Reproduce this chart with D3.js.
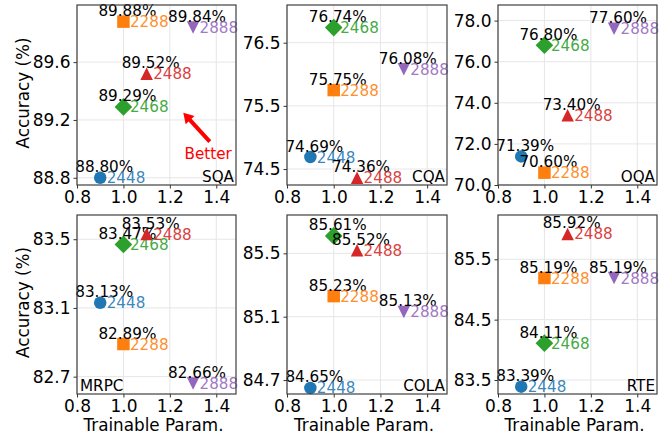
<!DOCTYPE html>
<html><head><meta charset="utf-8">
<script src="https://cdn.jsdelivr.net/npm/d3@7"></script>
<style>body{margin:0;background:#fff} text{font-family:"DejaVu Sans",sans-serif}</style>
</head><body><svg id="c" width="668" height="439"></svg>
<script>
// ---- data ----
const configs = ["2448","2288","2468","2488","2888"];
const trainableParams = [0.9, 1.0, 1.0, 1.1, 1.3];
const tasks = ["SQA","CQA","OQA","MRPC","COLA","RTE"];
const accSQA  = [88.80, 89.88, 89.29, 89.52, 89.84];
const accCQA  = [74.69, 75.75, 76.74, 74.36, 76.08];
const accOQA  = [71.39, 70.60, 76.80, 73.40, 77.60];
const accMRPC = [83.13, 82.89, 83.47, 83.53, 82.66];
const accCOLA = [84.65, 85.23, 85.61, 85.52, 85.13];
const accRTE  = [83.39, 85.19, 84.11, 85.92, 85.19];
const xTicks = [0.8, 1.0, 1.2, 1.4];
const yTicksSQA  = [88.8, 89.2, 89.6];
const yTicksCQA  = [74.5, 75.5, 76.5];
const yTicksOQA  = [70, 72, 74, 76, 78];
const yTicksMRPC = [82.7, 83.1, 83.5];
const yTicksCOLA = [84.7, 85.1, 85.5];
const yTicksRTE  = [83.5, 84.5, 85.5];
const yLimSQA  = [88.75, 89.995];
const yLimCQA  = [74.247, 77.097];
const yLimOQA  = [70.0, 78.76];
const yLimMRPC = [82.599, 83.641];
const yLimCOLA = [84.612, 85.742];
const yLimRTE  = [83.268, 86.234];
const xLim = [0.8, 1.485];
const hiddenConfigLabels = {OQA: ["2448"], COLA: ["2468"]};
const betterFrom = [1.372, 89.05];
const betterTo = [1.258, 89.25];
const betterText = [1.365, 88.93];

// ---- styles ----
const colors = ["#1f77b4","#ff7f0e","#2ca02c","#d62728","#9467bd"];
const shapes = ["circle","square","diamond","triUp","triDown"];
const accs = [accSQA, accCQA, accOQA, accMRPC, accCOLA, accRTE];
const yTicksAll = [yTicksSQA, yTicksCQA, yTicksOQA, yTicksMRPC, yTicksCOLA, yTicksRTE];
const yLims = [yLimSQA, yLimCQA, yLimOQA, yLimMRPC, yLimCOLA, yLimRTE];

const colL = [77, 287, 498], colR = [236, 447, 657];
const rowT = [5, 215], rowB = [185, 394];

const svg = d3.select("#c");
const fmt1 = d3.format(".1f");
const S = 12.5;
const ANN = 15.2, TICK = 17, LAB = 16.8;
function markerPath(shape){
  const h = S/2;
  if (shape==="circle"){const p=d3.path();p.arc(0,0,h,0,2*Math.PI);return p.toString();}
  if (shape==="square") return `M${-h},${-h}H${h}V${h}H${-h}Z`;
  if (shape==="diamond"){const d=h*Math.SQRT2;return `M0,${-d}L${d},0L0,${d}L${-d},0Z`;}
  if (shape==="triUp") return `M0,${-h}L${h},${h}L${-h},${h}Z`;
  if (shape==="triDown") return `M0,${h}L${h},${-h}L${-h},${-h}Z`;
}
function fmtPct(v){ return d3.format(".2f")(v) + "%"; }

tasks.forEach((task, i) => {
  const c = i % 3, r = Math.floor(i / 3);
  const x = d3.scaleLinear().domain(xLim).range([colL[c], colR[c]]);
  const y = d3.scaleLinear().domain(yLims[i]).range([rowB[r], rowT[r]]);
  const g = svg.append("g");
  // grid
  g.selectAll(".gx").data(xTicks).join("line")
    .attr("x1", d=>x(d)).attr("x2", d=>x(d)).attr("y1", rowT[r]).attr("y2", rowB[r])
    .attr("stroke", "#e6e6e6").attr("stroke-width", 1);
  g.selectAll(".gy").data(yTicksAll[i]).join("line")
    .attr("y1", d=>y(d)).attr("y2", d=>y(d)).attr("x1", colL[c]).attr("x2", colR[c])
    .attr("stroke", "#e6e6e6").attr("stroke-width", 1);
  // axes
  const ax = svg.append("g").attr("transform", `translate(0,${rowB[r]})`)
    .call(d3.axisBottom(x).tickValues(xTicks).tickFormat(fmt1).tickSize(3.5).tickPadding(2.5));
  ax.select(".domain").remove();
  ax.selectAll("text").attr("font-size", TICK).attr("fill", "#000").attr("font-family", "DejaVu Sans");
  ax.selectAll("line").attr("stroke", "#333");
  const ay = svg.append("g").attr("transform", `translate(${colL[c]},0)`)
    .call(d3.axisLeft(y).tickValues(yTicksAll[i]).tickFormat(fmt1).tickSize(3.5).tickPadding(3));
  ay.select(".domain").remove();
  ay.selectAll("text").attr("font-size", TICK).attr("fill", "#000").attr("font-family", "DejaVu Sans");
  ay.selectAll("line").attr("stroke", "#333");

  // points, drawn in sequence
  const hidden = hiddenConfigLabels[task] || [];
  const acc = accs[i];
  configs.forEach((cfg, k) => {
    const px = x(trainableParams[k]), py = y(acc[k]);
    g.append("path").attr("d", markerPath(shapes[k]))
      .attr("transform", `translate(${px},${py})`).attr("fill", colors[k]);
    g.append("text").attr("x", px + 4).attr("y", py - 5.5)
      .attr("text-anchor", "middle").attr("font-size", ANN).attr("fill", "#000")
      .text(fmtPct(acc[k]));
    if (!hidden.includes(cfg)) {
      g.append("text").attr("x", px + 6.5).attr("y", py + 5.5)
        .attr("font-size", ANN).attr("fill", colors[k]).attr("fill-opacity", 0.9)
        .text(cfg);
    }
  });

  // task label
  if (task === "MRPC") {
    g.append("text").attr("x", colL[c] + 3).attr("y", rowB[r] - 3.5)
      .attr("font-size", ANN).attr("fill", "#000").text(task);
  } else {
    g.append("text").attr("x", colR[c] - 2).attr("y", rowB[r] - 3.5)
      .attr("text-anchor", "end").attr("font-size", ANN).attr("fill", "#000").text(task);
  }

  // frame
  svg.append("rect").attr("x", colL[c]).attr("y", rowT[r])
    .attr("width", colR[c]-colL[c]).attr("height", rowB[r]-rowT[r])
    .attr("fill", "none").attr("stroke", "#404040").attr("stroke-width", 1.2);

  if (task === "SQA") {
    const x0 = x(betterFrom[0]), y0 = y(betterFrom[1]);
    const x1 = x(betterTo[0]), y1 = y(betterTo[1]);
    const dx = x1-x0, dy = y1-y0, L = Math.hypot(dx,dy);
    const ux = dx/L, uy = dy/L, nx = -uy, ny = ux;
    const hw = 2, HW = 6, HL = 10;
    const bx = x1 - ux*HL, by = y1 - uy*HL;
    const pts = [
      [x0 + nx*hw, y0 + ny*hw], [bx + nx*hw, by + ny*hw], [bx + nx*HW, by + ny*HW],
      [x1, y1], [bx - nx*HW, by - ny*HW], [bx - nx*hw, by - ny*hw], [x0 - nx*hw, y0 - ny*hw]
    ];
    g.append("path").attr("d", d3.line()(pts) + "Z").attr("fill", "#ff0000");
    g.append("text").attr("x", x(betterText[0])).attr("y", y(betterText[1]))
      .attr("text-anchor", "middle").attr("font-size", ANN).attr("fill", "#ff0000").text("Better");
  }
});

// axis titles
[0,1].forEach(r => {
  svg.append("text").attr("transform", `translate(29,${(rowT[r]+rowB[r])/2 - 2}) rotate(-90)`)
    .attr("text-anchor", "middle").attr("font-size", LAB).attr("fill", "#000").text("Accuracy (%)");
});
[0,1,2].forEach(c => {
  svg.append("text").attr("x", (colL[c]+colR[c])/2 - 3).attr("y", 431)
    .attr("text-anchor", "middle").attr("font-size", LAB).attr("fill", "#000").text("Trainable Param.");
});
</script></body></html>
